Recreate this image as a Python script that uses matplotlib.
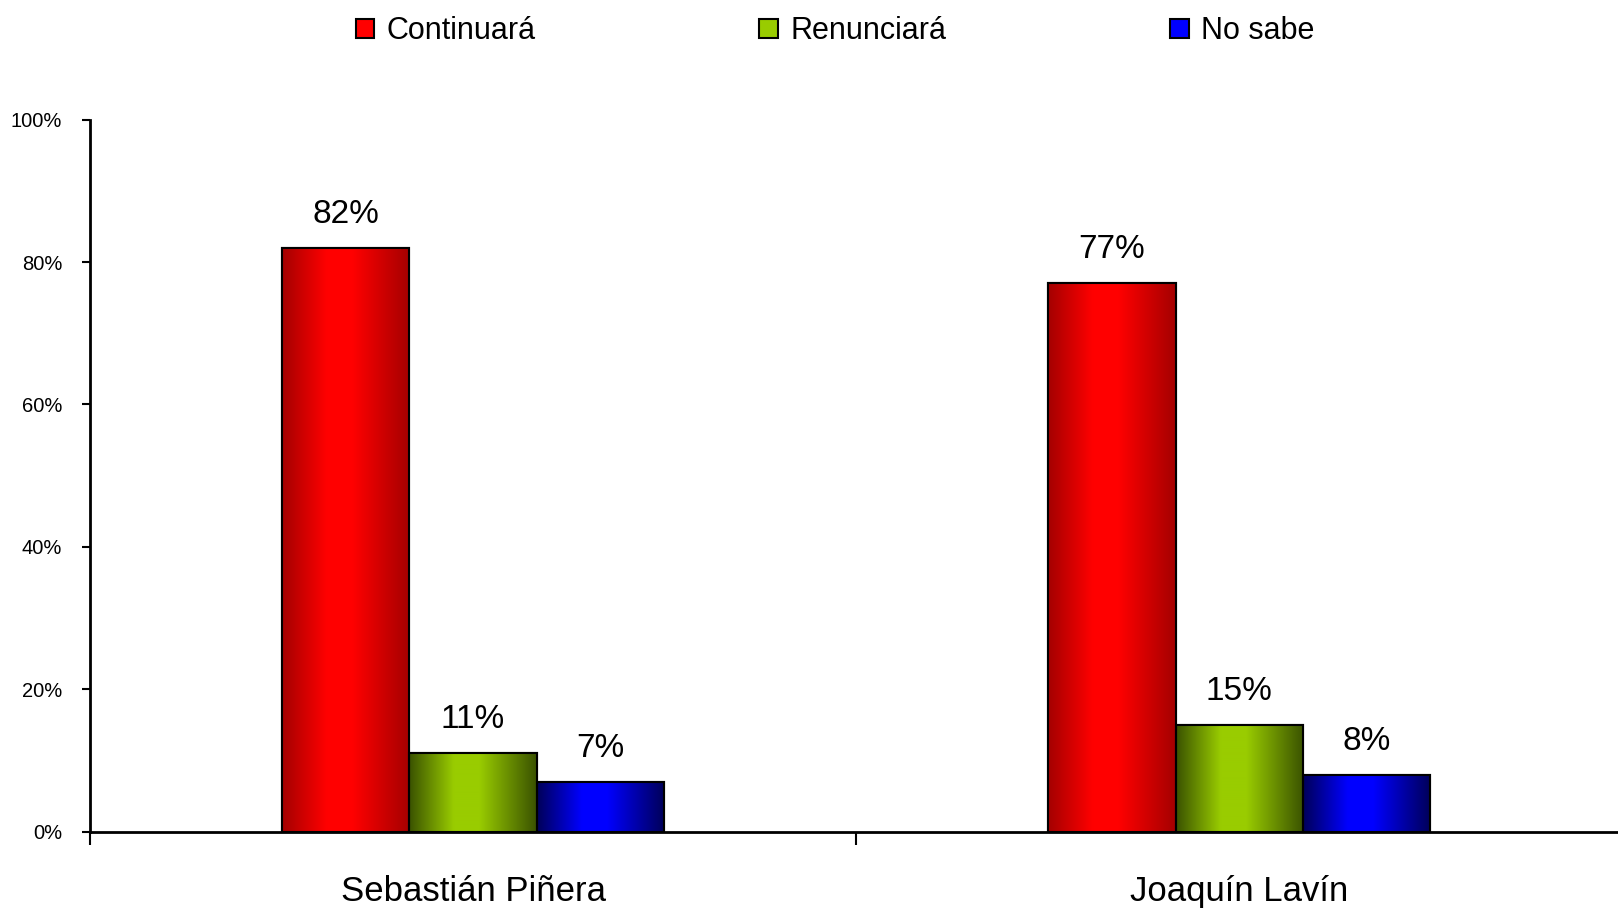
import numpy as np
import matplotlib
matplotlib.use('Agg')
import matplotlib.pyplot as plt
from matplotlib.colors import LinearSegmentedColormap
from matplotlib.patches import Patch

categories = ['Sebastián Piñera', 'Joaquín Lavín']
series = ['Continuará', 'Renunciará', 'No sabe']
continuara = [82, 77]
renunciara = [11, 15]
no_sabe = [7, 8]
yticks = [0, 20, 40, 60, 80, 100]

bright = ['#FF0000', '#99CC00', '#0000FF']
dark = ['#A40000', '#3A5200', '#000058']

narrow = ['Liberation Sans Narrow', 'Liberation Sans', 'DejaVu Sans']
plt.rcParams['font.family'] = ['Liberation Sans', 'DejaVu Sans']

fig = plt.figure(figsize=(16.18, 9.11), dpi=100)
ax = fig.add_axes([0.0556, 0.0871, 0.947, 0.7815])

x = np.arange(len(categories)) + 0.5
w = 0.166
grad = np.linspace(0, 1, 256).reshape(1, -1)

for i, vals in enumerate([continuara, renunciara, no_sabe]):
    cmap = LinearSegmentedColormap.from_list(
        'c%d' % i, [(0, dark[i]), (0.35, bright[i]), (0.55, bright[i]), (1, dark[i])])
    bars = ax.bar(x + (i - 1) * w, vals, w, color=bright[i],
                  edgecolor='black', linewidth=1.5, zorder=3)
    for b, v in zip(bars, vals):
        bx, by = b.get_x(), b.get_y()
        im = ax.imshow(grad, cmap=cmap, aspect='auto', zorder=3.5,
                       extent=[bx, bx + b.get_width(), by, by + b.get_height()])
        im.set_clip_path(b)
        # outline on top
        ax.bar(b.get_x() + b.get_width() / 2, v, b.get_width(), color='none',
               edgecolor='black', linewidth=1.5, zorder=4)
        ax.annotate(f'{v}%', (b.get_x() + b.get_width() / 2, v),
                    xytext=(0, 18), textcoords='offset points',
                    ha='center', va='baseline', fontsize=24, family=narrow)

ax.set_xlim(0, 2)
ax.set_ylim(0, 100)
ax.set_yticks(yticks)
ax.set_yticklabels([f'{t}%' for t in yticks], fontsize=14.5)
ax.tick_params(axis='y', direction='out', length=6, width=1.5, pad=14)

ax.set_xticks(x)
ax.set_xticklabels(categories, fontsize=25, family=narrow)
ax.set_xticks([0, 1, 2], minor=True)
ax.tick_params(axis='x', which='major', length=0, pad=31)
ax.tick_params(axis='x', which='minor', direction='out', length=9, width=1.5)

for s in ['top', 'right']:
    ax.spines[s].set_visible(False)
for s in ['left', 'bottom']:
    ax.spines[s].set_linewidth(2)
    ax.spines[s].set_zorder(5)

handles = [Patch(facecolor=bright[i], edgecolor='black', linewidth=1.5) for i in range(3)]
fig.legend(handles, series, loc='center', bbox_to_anchor=(0.516, 0.966), ncol=3,
           frameon=False, handlelength=0.6, handleheight=0.6, handletextpad=0.4,
           columnspacing=7.34, prop={'family': narrow, 'size': 22})

fig.savefig('out.png', dpi=100)
